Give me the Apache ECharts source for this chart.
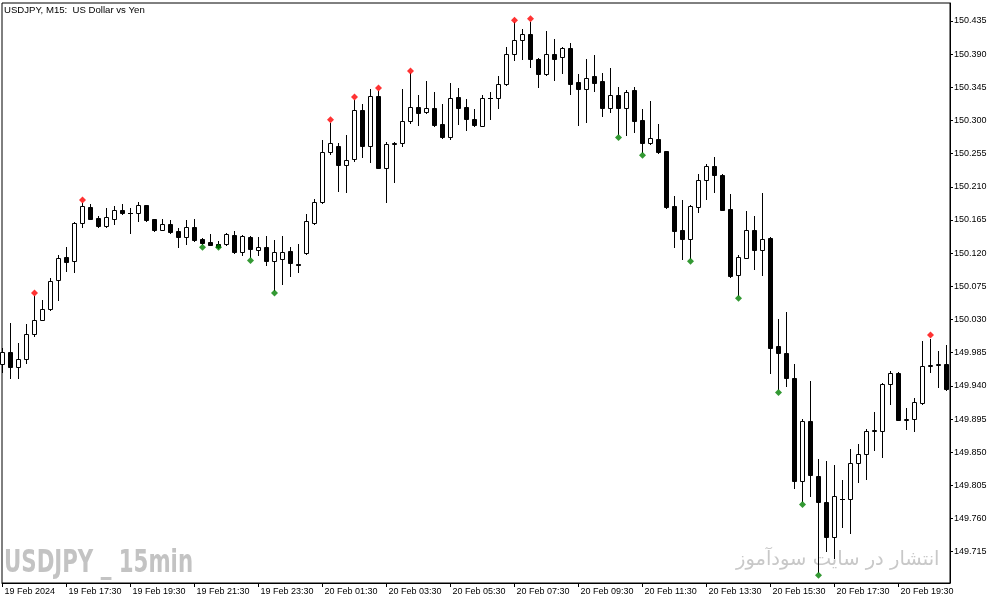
<!DOCTYPE html>
<html><head><meta charset="utf-8">
<script src="https://cdn.jsdelivr.net/npm/echarts@6/dist/echarts.min.js"></script>
<style>html,body{margin:0;padding:0;background:#fff}#c{width:1003px;height:605px}</style>
</head><body><div id="c"></div>
<script>
// USDJPY M15 candles (index 0 = 19 Feb 15:30)
const opens=[149.970,149.986,149.966,149.976,150.010,150.030,150.044,150.083,150.115,150.109,
150.161,150.182,150.168,150.157,150.167,150.178,150.174,150.174,150.185,150.166,
150.152,150.159,150.150,150.142,150.155,150.139,150.135,150.132,150.132,150.144,
150.121,150.142,150.124,150.128,150.109,150.112,150.123,150.105,150.120,150.161,
150.189,150.257,150.266,150.240,150.248,150.314,150.266,150.333,150.236,150.268,
150.269,150.299,150.319,150.311,150.317,150.295,150.277,150.332,150.318,150.302,
150.293,150.330,150.330,150.349,150.390,150.409,150.418,150.384,150.363,150.390,
150.386,150.398,150.352,150.343,150.360,150.354,150.317,150.334,150.317,150.341,
150.301,150.269,150.275,150.259,150.184,150.151,150.139,150.183,150.219,150.238,
150.226,150.180,150.090,150.114,150.151,150.124,150.141,149.994,149.985,149.950,
149.811,149.892,149.818,149.782,149.735,149.787,149.786,149.836,149.847,149.879,
149.879,149.942,149.958,149.894,149.895,149.917,149.967,149.968,149.970];
const closes=[149.986,149.966,149.976,150.010,150.030,150.044,150.082,150.114,150.108,150.161,
150.184,150.167,150.157,150.169,150.178,150.174,150.174,150.185,150.165,150.152,
150.159,150.149,150.142,150.155,150.138,150.134,150.131,150.128,150.146,150.121,
150.143,150.125,150.128,150.109,150.121,150.121,150.106,150.104,150.164,150.189,
150.257,150.269,150.240,150.247,150.314,150.266,150.333,150.236,150.268,150.269,
150.299,150.319,150.310,150.317,150.294,150.277,150.330,150.317,150.302,150.294,
150.330,150.331,150.350,150.390,150.409,150.418,150.384,150.363,150.390,150.384,
150.398,150.350,150.343,150.358,150.351,150.317,150.334,150.317,150.338,150.300,
150.270,150.276,150.257,150.183,150.150,150.139,150.184,150.219,150.238,150.226,
150.179,150.089,150.115,150.151,150.124,150.139,149.992,149.984,149.950,149.811,
149.892,149.819,149.782,149.735,149.791,149.786,149.836,149.847,149.879,149.880,
149.942,149.958,149.894,149.895,149.918,149.967,149.968,149.970,149.936];
const lows=[149.959,149.950,149.950,149.971,150.007,150.030,150.043,150.057,150.096,150.094,
150.155,150.166,150.155,150.155,150.159,150.173,150.147,150.164,150.164,150.150,
150.152,150.148,150.128,150.133,150.136,150.132,150.131,150.127,150.131,150.120,
150.117,150.115,150.118,150.104,150.070,150.078,150.089,150.094,150.119,150.160,
150.188,150.254,150.204,150.203,150.245,150.251,150.244,150.235,150.190,150.217,
150.265,150.297,150.294,150.310,150.293,150.276,150.275,150.295,150.287,150.293,
150.293,150.302,150.317,150.348,150.382,150.383,150.372,150.345,150.362,150.355,
150.364,150.336,150.294,150.298,150.340,150.306,150.312,150.282,150.280,150.285,
150.257,150.268,150.256,150.181,150.129,150.112,150.113,150.176,150.194,150.203,
150.178,150.088,150.063,150.113,150.099,150.090,149.958,149.936,149.940,149.802,
149.784,149.791,149.688,149.716,149.707,149.748,149.741,149.810,149.813,149.853,
149.843,149.915,149.893,149.881,149.879,149.916,149.959,149.938,149.934];
const highs=[149.991,150.025,149.998,150.024,150.062,150.057,150.086,150.118,150.128,150.162,
150.188,150.187,150.170,150.181,150.184,150.187,150.181,150.189,150.186,150.167,
150.166,150.165,150.154,150.165,150.166,150.141,150.146,150.136,150.147,150.150,
150.144,150.143,150.142,150.143,150.138,150.143,150.128,150.132,150.173,150.194,
150.274,150.296,150.269,150.280,150.328,150.322,150.343,150.340,150.271,150.271,
150.343,150.364,150.335,150.354,150.338,150.322,150.351,150.344,150.329,150.316,
150.335,150.338,150.360,150.400,150.433,150.424,150.434,150.385,150.421,150.411,
150.400,150.405,150.363,150.383,150.389,150.364,150.371,150.345,150.341,150.345,
150.315,150.326,150.295,150.259,150.198,150.192,150.185,150.227,150.241,150.250,
150.227,150.200,150.118,150.177,150.170,150.202,150.142,150.031,150.040,149.969,
149.895,149.947,149.841,149.838,149.832,149.812,149.854,149.861,149.882,149.905,
149.944,149.960,149.959,149.910,149.923,150.001,150.004,149.987,149.995];
// fractal markers [bar index, price]
const upFractals=[[4,150.066],[10,150.192],[41,150.301],[44,150.332],[47,150.344],[51,150.367],[64,150.436],[66,150.438],[116,150.009]];
const downFractals=[[25,150.128],[27,150.128],[31,150.110],[34,150.066],[77,150.277],[80,150.253],[86,150.109],[92,150.059],[97,149.931],[100,149.779],[102,149.683]];
// axis ticks
const priceTicks=[150.435,150.390,150.345,150.300,150.255,150.210,150.165,150.120,150.075,150.030,149.985,149.940,149.895,149.850,149.805,149.760,149.715];
const timeTickIndex=[0,8,16,24,32,40,48,56,64,72,80,88,96,104,112];
const timeTickLabels=['19 Feb 2024','19 Feb 17:30','19 Feb 19:30','19 Feb 21:30','19 Feb 23:30','20 Feb 01:30','20 Feb 03:30','20 Feb 05:30','20 Feb 07:30','20 Feb 09:30','20 Feb 11:30','20 Feb 13:30','20 Feb 15:30','20 Feb 17:30','20 Feb 19:30'];
const titleText='USDJPY, M15:  US Dollar vs Yen';
const watermark1='USDJPY _ 15min';
const watermark2='انتشار در سایت سودآموز';

const candles=opens.map((o,i)=>[i,o,closes[i],lows[i],highs[i]]);

function renderCandle(params, api){
  const k=api.value(0),o=api.value(1),c=api.value(2),l=api.value(3),h=api.value(4);
  const pO=api.coord([k,o]),pC=api.coord([k,c]),pL=api.coord([k,l]),pH=api.coord([k,h]);
  const xc=Math.floor(pO[0])+0.5;
  const yH=Math.round(pH[1]),yL=Math.round(pL[1]);
  const yO=Math.round(pO[1]),yC=Math.round(pC[1]);
  const top=Math.min(yO,yC),bot=Math.max(yO,yC);
  const bull=c>=o;
  const ch=[{type:'line',shape:{x1:xc,y1:yH,x2:xc,y2:yL+1},style:{stroke:'#000',lineWidth:1}}];
  if(bot-top<1){
    ch.push({type:'line',shape:{x1:xc-2.5,y1:top+0.5,x2:xc+2.5,y2:top+0.5},style:{stroke:'#000',lineWidth:1}});
  }else{
    ch.push({type:'rect',shape:{x:xc-2,y:top+0.5,width:4,height:bot-top},style:{fill:bull?'#fff':'#000',stroke:'#000',lineWidth:1}});
  }
  return {type:'group',children:ch};
}

const FONT='"Liberation Sans", Arial, sans-serif';
const chart=echarts.init(document.getElementById('c'),null,{renderer:'canvas'});
chart.setOption({
  animation:false,
  backgroundColor:'#fff',
  title:{text:titleText,left:4,top:5,padding:0,textStyle:{fontSize:9.6,fontWeight:'normal',fontFamily:FONT,color:'#000'}},
  grid:{left:2,right:53,top:3,bottom:22,show:true,borderColor:'#000',borderWidth:1,backgroundColor:'#fff'},
  xAxis:{type:'value',min:-0.0625,max:118.4375,position:'bottom',
    axisLine:{show:true,onZero:false,lineStyle:{color:'#000',width:1}},
    axisTick:{show:true,length:4,customValues:timeTickIndex,lineStyle:{color:'#000'}},
    axisLabel:{customValues:timeTickIndex,formatter:v=>timeTickLabels[timeTickIndex.indexOf(v)],align:'left',margin:4,padding:[0,0,0,2],fontSize:9,fontFamily:FONT,color:'#000'},
    splitLine:{show:false}},
  yAxis:{type:'value',position:'right',min:149.67253,max:150.45942,
    axisLine:{show:true,onZero:false,lineStyle:{color:'#000',width:1}},
    axisTick:{show:true,length:3,customValues:priceTicks,lineStyle:{color:'#000'}},
    axisLabel:{customValues:priceTicks,formatter:v=>v.toFixed(3),margin:4,fontSize:9,fontFamily:FONT,color:'#000'},
    splitLine:{show:false}},
  graphic:[
    {type:'text',left:4,top:548,z:0,scaleX:0.74,style:{text:watermark1,fill:'#c3c3c3',font:'bold 32px "Liberation Sans Narrow", "DejaVu Sans Condensed", "Liberation Sans", sans-serif'}},
    {type:'text',left:736,top:550,z:0,style:{text:watermark2,fill:'#c8c8c8',font:'19.5px "DejaVu Sans", sans-serif'}}
  ],
  series:[
    {type:'custom',renderItem:renderCandle,data:candles,encode:{x:0,y:[1,2,3,4]},z:5},
    {type:'scatter',data:upFractals,symbol:'diamond',symbolSize:7,itemStyle:{color:'#ff0000'},z:6},
    {type:'scatter',data:downFractals,symbol:'diamond',symbolSize:7,itemStyle:{color:'#008000'},z:6}
  ]
});
</script></body></html>
